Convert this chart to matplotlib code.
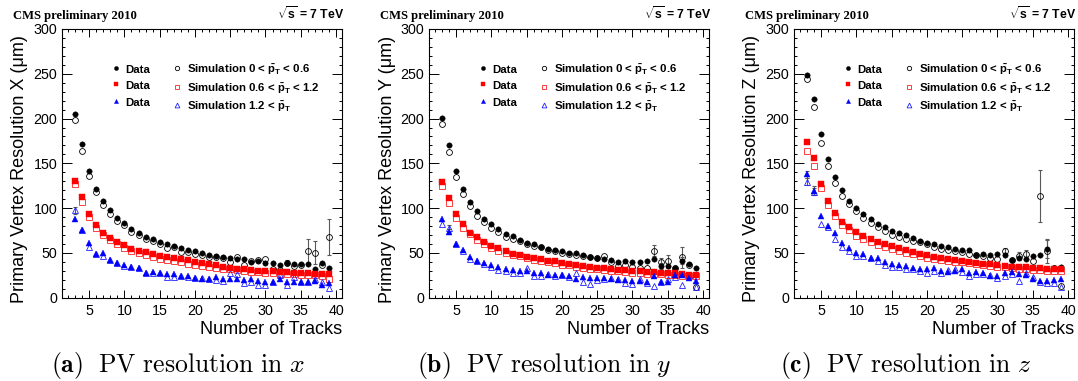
import matplotlib
matplotlib.use("Agg")
import matplotlib.pyplot as plt
from matplotlib.ticker import MultipleLocator

plt.rcParams['font.family'] = ['Liberation Sans', 'DejaVu Sans']
plt.rcParams['mathtext.fontset'] = 'custom'
plt.rcParams['mathtext.rm'] = 'Liberation Sans'
plt.rcParams['mathtext.it'] = 'Liberation Sans:italic'
plt.rcParams['mathtext.bf'] = 'Liberation Sans:bold'

# ---------------- data ----------------
tracks = [3, 4, 5, 6, 7, 8, 9, 10, 11, 12, 13, 14, 15, 16, 17, 18, 19, 20, 21,
          22, 23, 24, 25, 26, 27, 28, 29, 30, 31, 32, 33, 34, 35, 36, 37, 38, 39]

# Panel (a): resolution in X
x_data0 = [205, 172, 142, 121, 108, 98, 89, 83, 77, 72, 67.5, 65, 62, 60, 57.7, 55, 53.3, 51.8, 49.5,
           47.7, 46.6, 45.8, 44.7, 43, 42.9, 40.2, 41, 39.1, 38.4, 36.1, 39.1, 37.2, 37.2, 37.2, 32.4, 39.1, 33.5]
x_sim0 = [198, 164, 135.5, 118, 103, 93.5, 85.3, 80.8, 73.4, 70.4, 65.9, 63.3, 60.3, 55.8, 56.2, 51.4, 51, 49, 48,
          45.8, 45.8, 44, 40.2, 45.8, 36.1, 40.5, 42.1, 43.2, 32.1, 30.9, 39.1, 35, 36, 52.1, 50.3, 37, 68.2]
x_data1 = [130, 112, 93, 81.5, 72.6, 67, 62.2, 58.8, 54.7, 52.1, 50.7, 49.2, 46.9, 45.8, 44.3, 43.2, 41.7, 39.9, 38.4,
           37.3, 36, 34.7, 33.6, 32.4, 32.1, 31, 30.2, 30.2, 29.9, 29.2, 28.8, 27.7, 27.4, 27.4, 26.6, 26.6, 26.3]
x_sim1 = [126.6, 106.5, 89.8, 78.2, 70.4, 64.4, 60, 55.5, 51.8, 49.6, 47.7, 45.8, 43.5, 42.1, 40.6, 39.5, 38, 36.8, 35.7,
          34.3, 33.5, 32.5, 31.6, 30.8, 30, 29.2, 28.5, 28, 27.5, 27, 26.5, 26, 25.6, 25.3, 24.8, 24.3, 21.3]
x_data2 = [88, 76, 61, 48.8, 49.5, 41.8, 38.7, 36.5, 34.6, 33.5, 28, 28.3, 27.6, 26.8, 26.8, 24.6, 24.6, 22, 21.2,
           21.2, 22.7, 21.2, 21.2, 20.8, 19.7, 21.2, 18.6, 17.1, 17.1, 20.8, 17.9, 17.1, 17.9, 17.9, 18.6, 14.1, 16]
x_sim2 = [97.5, 75.2, 56.2, 48.4, 46.2, 42, 39, 35, 33.9, 32.8, 27.9, 27.9, 27.2, 23.4, 22.7, 24.6, 23.4, 21.6, 21.6,
          21.2, 19.4, 18.6, 27.2, 26.5, 16, 17.1, 14.1, 14.1, 17.1, 25.4, 14.1, 23.4, 17.9, 17.9, 20.5, 17, 10.4]
x_errors = {"sim0": {36: 13, 37: 13, 39: 20}, "data0": {33: 3}, "sim2": {3: 4}}

# Panel (b): resolution in Y
y_data0 = [201, 170.5, 141, 121, 106.5, 96.8, 87.9, 82.7, 77, 71.3, 68.5, 64.2, 61.6, 59.6, 56.8, 54.5, 53.4, 52.5, 50.3,
           49.5, 47.7, 45.8, 44, 43.5, 42.1, 39.5, 41.3, 39.9, 39.5, 40.9, 42.8, 35.4, 35.4, 32.8, 41.3, 37.2, 32.8]
y_sim0 = [194, 162.7, 134.8, 115.8, 102, 91.2, 84.5, 77.8, 73, 67.8, 65.5, 63.3, 60.3, 57.4, 56.3, 53.3, 51.8, 50.3, 48.8,
          47.3, 46, 45, 44, 46.5, 40, 35.5, 36, 34, 33, 33, 52.5, 39.5, 40.5, 33, 45, 36, 12]
y_data1 = [129.2, 111.3, 93.1, 81.9, 72.6, 67.4, 62.2, 57.7, 55.1, 51.8, 49.2, 47.3, 45.8, 44, 42.9, 41.3, 40.6, 39.1, 38,
           36.9, 35.8, 34.7, 33.6, 32.8, 32.1, 31.3, 30.9, 30.2, 29.5, 29.2, 28.8, 28.1, 27.7, 27.4, 26.6, 25.9, 25.2]
y_sim1 = [124.4, 105.4, 89.4, 77.8, 70.8, 64.8, 60, 55.8, 52.1, 49.9, 48, 46.2, 44.7, 42.4, 41.3, 39.5, 38.4, 36.8, 36.1,
          34.3, 33.5, 32.5, 31.6, 30.8, 30, 29.3, 28.7, 28, 27.4, 27, 26.5, 26, 25.6, 25.2, 24.7, 24.3, 23.8]
y_data2 = [87.8, 73.7, 59.6, 53.2, 45.8, 41.3, 38.3, 36.1, 33.9, 32.4, 30.9, 29.4, 29.4, 27.9, 27.2, 25.3, 25.3, 25.3, 24.2,
           20.5, 22.7, 21.6, 22.3, 22.3, 20.5, 19.7, 19.4, 19, 18.2, 17.1, 24.2, 17.1, 17.9, 25.3, 25.3, 21.6, 19]
y_sim2 = [82.3, 77.4, 60, 52.5, 43.5, 41.3, 37.6, 34.6, 30.9, 30.1, 27.2, 27.2, 32.8, 24.2, 24.2, 26, 24.6, 25.3, 23.4,
          27.2, 17.1, 15.3, 19.4, 20.5, 22.3, 20.5, 16, 15.3, 20.5, 16, 13.4, 17.9, 20.5, 23.4, 14.1, 25.3, 12.3]
y_errors = {"sim0": {33: 6, 34: 5, 35: 7, 37: 12}, "data0": {34: 3, 37: 4}, "sim2": {4: 4}, "data2": {4: 3}}

# Panel (c): resolution in Z
z_data0 = [248.3, 221.5, 182.6, 155.2, 135.1, 120, 108.3, 100.7, 93, 87.7, 82.5, 78.4, 74.5, 71.8, 69.5, 66.1, 63.1, 61.2,
           59.6, 58.1, 56.3, 54, 53.2, 53.2, 47.7, 48.8, 47.7, 48.8, 48, 42.1, 44, 42.9, 46.6, 47.7, 54.4, 33, 34.6]
z_sim0 = [243.8, 213.3, 172.3, 147, 127.7, 113.9, 104.6, 96.4, 89, 83.7, 79.3, 74.1, 70, 68.1, 65.1, 63.6, 61.8, 59.9,
          56.9, 54, 53.2, 52.5, 51, 49.1, 47.3, 46.5, 44.7, 43.5, 52.5, 42, 46.5, 48.8, 41, 114, 52.1, 33, 13.4]
z_data1 = [173.5, 156.3, 127.3, 108.3, 95.1, 84.9, 78.5, 73.3, 69.2, 65.9, 62.5, 59.9, 57.7, 55.5, 53.2, 50.6, 48.8, 47.3,
           45.8, 44.7, 42.8, 42.1, 40.9, 40.2, 38.7, 38, 37.2, 36.5, 35.4, 34.6, 34.6, 33.9, 33.1, 32.8, 32, 31.6, 31.6]
z_sim1 = [164.1, 147, 122, 103.1, 91.2, 81.5, 75.6, 69.2, 65.5, 61.8, 58.4, 56.6, 54, 52.1, 50.2, 48.4, 46.5, 44.7,
          43.5, 42.4, 41.3, 40.2, 39.5, 38.7, 37.2, 36.5, 35.4, 34.6, 33.9, 32.8, 32.4, 31.6, 30.9, 30.5, 30.1, 29.4, 29.8]
z_data2 = [137.8, 119.5, 91.6, 80, 71.9, 60.7, 55.9, 49.6, 49.2, 44.7, 44.7, 39.5, 38, 36.8, 35.7, 33.5, 32.4, 31.7,
           32.8, 30.2, 29.1, 29.8, 32.4, 28, 28.5, 27.4, 24.7, 24.7, 27.4, 29.1, 26.6, 25.5, 20.6, 19.2, 18.1, 19.9, 20.9]
z_sim2 = [129.5, 118.4, 82, 79, 65.9, 57, 52.5, 46.6, 47, 44, 41.3, 36.2, 34.6, 34.2, 32.4, 31.7, 29.8, 27.2,
          29.8, 28, 31, 31.7, 28.5, 24.3, 26.6, 26.3, 25.1, 22.5, 24.3, 26.6, 19.2, 28, 23.6, 17, 16.3, 16.3, 11.9]
z_errors = {"sim0": {31: 3, 33: 4, 34: 4, 36: 29, 37: 13}, "data0": {37: 10}, "data2": {3: 4, 4: 5}, "sim2": {3: 4, 4: 4}}

axis_names = ["X", "Y", "Z"]
caption_letters = ["a", "b", "c"]
caption_vars = ["x", "y", "z"]
pt_labels = [r"0 < $\mathbf{\bar{p}_T}$ < 0.6", r"0.6 < $\mathbf{\bar{p}_T}$ < 1.2", r"1.2 < $\mathbf{\bar{p}_T}$"]

panel_series = [
    {"data0": x_data0, "data1": x_data1, "data2": x_data2, "sim0": x_sim0, "sim1": x_sim1, "sim2": x_sim2},
    {"data0": y_data0, "data1": y_data1, "data2": y_data2, "sim0": y_sim0, "sim1": y_sim1, "sim2": y_sim2},
    {"data0": z_data0, "data1": z_data1, "data2": z_data2, "sim0": z_sim0, "sim1": z_sim1, "sim2": z_sim2},
]
panel_errors = [x_errors, y_errors, z_errors]

# ---------------- styles ----------------
styles = {
    "sim0": dict(marker='o', mfc='none', mec='black', ms=4.2, mew=0.6),
    "sim1": dict(marker='s', mfc='none', mec='#ff2020', ms=3.9, mew=0.6),
    "sim2": dict(marker='^', mfc='none', mec='#2020ff', ms=4.6, mew=0.6),
    "data0": dict(marker='o', mfc='black', mec='black', ms=3.9, mew=0.3),
    "data1": dict(marker='s', mfc='#ff0000', mec='#ff0000', ms=3.7, mew=0.3),
    "data2": dict(marker='^', mfc='#0000ff', mec='#0000ff', ms=4.0, mew=0.3),
}

W, H = 1078.0, 381.0
fig = plt.figure(figsize=(W / 100, H / 100), dpi=100)
panel_left_px = [62, 429, 794]
panel_w_px = 280
ax_bottom = (H - 297.7) / H
ax_height = 268.7 / H
caption_centers_px = [178, 544, 906]

for i in range(3):
    ax = fig.add_axes([panel_left_px[i] / W, ax_bottom, panel_w_px / W, ax_height])
    ser = panel_series[i]
    errs = panel_errors[i]
    handles = {}
    for key in ["sim0", "sim1", "sim2", "data0", "data1", "data2"]:
        vals = ser[key]
        ex, ey, ee = [], [], []
        for t, e in errs.get(key, {}).items():
            ex.append(t)
            ey.append(vals[tracks.index(t)])
            ee.append(e)
        if ex:
            ax.errorbar(ex, ey, yerr=ee, fmt='none', ecolor='0.35', elinewidth=0.8,
                        capsize=1.3, capthick=0.8, zorder=2)
        h, = ax.plot(tracks, vals, linestyle='none', zorder=3, **styles[key])
        handles[key] = h

    ax.set_xlim(1.15, 40.85)
    ax.set_ylim(0, 300)
    ax.xaxis.set_major_locator(MultipleLocator(5))
    ax.xaxis.set_minor_locator(MultipleLocator(1))
    ax.yaxis.set_major_locator(MultipleLocator(50))
    ax.yaxis.set_minor_locator(MultipleLocator(10))
    ax.tick_params(which='both', direction='in', top=True, right=True, width=0.7, labelsize=10.3)
    ax.tick_params(axis='x', which='major', length=5.5, pad=4.5)
    ax.tick_params(axis='x', which='minor', length=2.5)
    ax.tick_params(axis='y', which='major', length=7, pad=3.5)
    ax.tick_params(axis='y', which='minor', length=2.5)
    for sp in ax.spines.values():
        sp.set_linewidth(0.8)

    ax.set_xlabel("Number of Tracks", fontsize=13)
    ax.xaxis.set_label_coords(1.0, -0.135)
    ax.xaxis.label.set_ha('right')
    ax.xaxis.label.set_va('baseline')
    ax.set_ylabel("Primary Vertex Resolution %s (\u03bcm)" % axis_names[i], fontsize=13)
    ax.yaxis.set_label_coords(-42.0 / panel_w_px, 0.479)
    ax.yaxis.label.set_va('center')

    ax.text(-49.0 / panel_w_px, (297.7 - 19) / 268.7, "CMS preliminary 2010", transform=ax.transAxes,
            ha='left', va='baseline', fontsize=9.1, fontweight='bold', family='Liberation Serif')
    ax.text(1.007, (297.7 - 19) / 268.7, r"$\mathbf{\sqrt{s}}$ = 7 TeV", transform=ax.transAxes,
            ha='right', va='baseline', fontsize=8.8, fontweight='bold')

    leg_handles = [handles["data0"], handles["data1"], handles["data2"],
                   handles["sim0"], handles["sim1"], handles["sim2"]]
    leg_labels = ["Data", "Data", "Data"] + ["Simulation " + p for p in pt_labels]
    ax.legend(leg_handles, leg_labels, ncol=2, loc='upper left',
              bbox_to_anchor=(49.6 / panel_w_px, 0.874), borderaxespad=0, borderpad=0,
              frameon=False, prop={'weight': 'bold', 'size': 8.2}, handlelength=0.8,
              handletextpad=0.4, columnspacing=2.0, labelspacing=0.33, handleheight=1.3,
              markerscale=0.75, numpoints=1)

    fig.text(caption_centers_px[i] / W, 1 - 372 / H,
             r"$\mathbf{(%s)}\ \ \mathrm{PV\ resolution\ in}\ %s$" % (caption_letters[i], caption_vars[i]),
             math_fontfamily='cm', fontsize=18.5, ha='center', va='baseline')

fig.savefig("out.png", dpi=100)
